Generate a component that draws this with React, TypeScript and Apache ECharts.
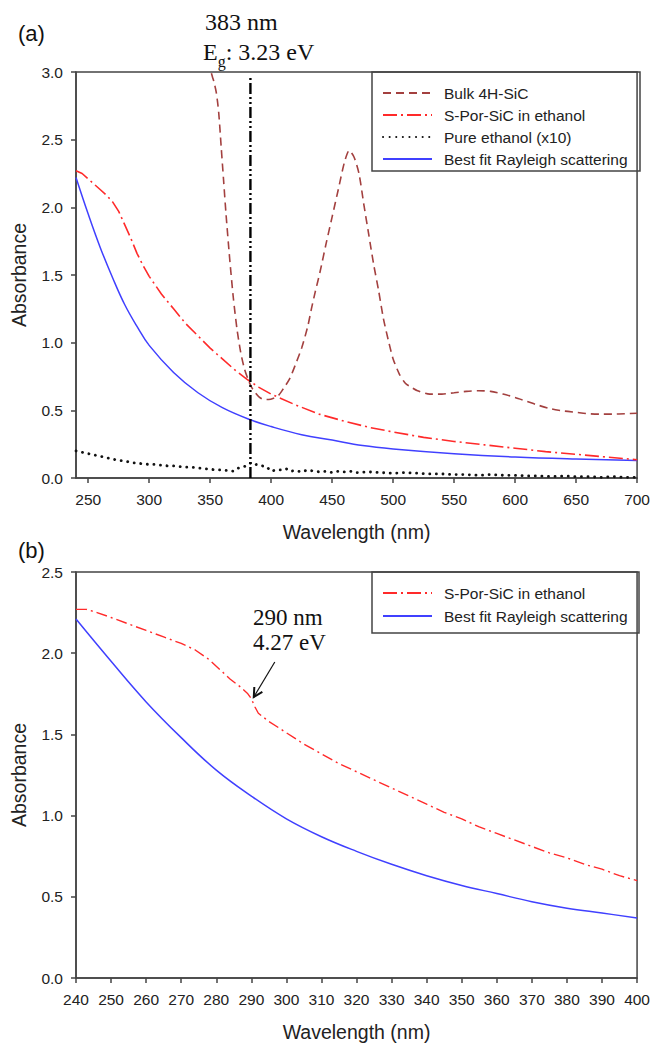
import React, { useEffect, useRef } from "react";
import * as echarts from "echarts";

// ---------- Panel (a) data ----------
const bulkWl = [351, 352, 353, 355, 357, 359, 361, 363, 366, 369, 372, 375, 378, 381, 384, 387, 390, 394, 398, 402, 406, 410, 415, 420, 425, 430, 433, 436, 440, 445, 450, 455, 460, 464, 468, 472, 476, 480, 484, 488, 492, 496, 500, 505, 510, 515, 520, 530, 540, 550, 560, 570, 580, 590, 600, 610, 620, 630, 640, 650, 660, 670, 680, 690, 700];
const bulkAbs = [2.99, 2.96, 2.93, 2.85, 2.7, 2.45, 2.2, 1.95, 1.62, 1.33, 1.1, 0.93, 0.81, 0.73, 0.67, 0.63, 0.6, 0.58, 0.58, 0.59, 0.61, 0.66, 0.73, 0.84, 0.96, 1.12, 1.25, 1.37, 1.52, 1.73, 1.93, 2.13, 2.33, 2.42, 2.37, 2.25, 2.02, 1.8, 1.58, 1.39, 1.18, 1.02, 0.88, 0.77, 0.7, 0.67, 0.645, 0.62, 0.62, 0.63, 0.64, 0.645, 0.64, 0.62, 0.595, 0.565, 0.535, 0.51, 0.495, 0.485, 0.475, 0.472, 0.472, 0.475, 0.478];

const porWlA = [240, 245, 250, 255, 260, 265, 270, 275, 280, 285, 290, 295, 300, 310, 320, 330, 340, 350, 360, 370, 380, 390, 400, 420, 440, 460, 480, 500, 525, 550, 575, 600, 625, 650, 675, 700];
const porAbsA = [2.27, 2.25, 2.21, 2.17, 2.13, 2.09, 2.04, 1.97, 1.87, 1.77, 1.66, 1.57, 1.49, 1.36, 1.25, 1.14, 1.05, 0.96, 0.88, 0.8, 0.73, 0.67, 0.62, 0.54, 0.47, 0.42, 0.375, 0.34, 0.3, 0.27, 0.245, 0.22, 0.195, 0.175, 0.155, 0.135];

const ethWl = [240, 245, 250, 255, 260, 265, 270, 275, 280, 285, 290, 295, 300, 305, 310, 315, 320, 325, 330, 335, 340, 345, 350, 355, 360, 365, 369, 372, 376, 380, 383, 385, 388, 392, 396, 400, 404, 408, 412, 416, 420, 425, 430, 435, 440, 445, 450, 455, 460, 465, 470, 480, 490, 500, 510, 520, 530, 540, 550, 560, 570, 580, 590, 600, 610, 620, 630, 640, 650, 660, 670, 680, 690, 700];
const ethAbs = [0.2, 0.19, 0.18, 0.17, 0.16, 0.15, 0.14, 0.13, 0.125, 0.115, 0.11, 0.105, 0.1, 0.1, 0.095, 0.09, 0.09, 0.085, 0.08, 0.08, 0.075, 0.07, 0.065, 0.06, 0.06, 0.055, 0.05, 0.07, 0.08, 0.09, 0.11, 0.095, 0.1, 0.09, 0.085, 0.05, 0.06, 0.06, 0.07, 0.05, 0.055, 0.045, 0.06, 0.05, 0.045, 0.05, 0.04, 0.05, 0.045, 0.05, 0.04, 0.045, 0.04, 0.035, 0.04, 0.035, 0.03, 0.03, 0.025, 0.025, 0.02, 0.025, 0.02, 0.02, 0.015, 0.015, 0.01, 0.015, 0.01, 0.01, 0.005, 0.01, 0.005, 0.005];

const rayWlA = [240, 250, 260, 270, 280, 290, 300, 320, 340, 360, 383, 400, 425, 450, 475, 500, 550, 600, 650, 700];
const rayAbsA = [2.22, 1.95, 1.7, 1.48, 1.28, 1.12, 0.98, 0.78, 0.63, 0.52, 0.43, 0.38, 0.32, 0.28, 0.24, 0.215, 0.18, 0.155, 0.14, 0.13];

const egWl = [383, 383];
const egAbs = [0, 2.96];

// ---------- Panel (b) data ----------
const porWlB = [240, 243, 246, 250, 255, 260, 265, 270, 274, 278, 281, 284, 287, 289, 290, 291, 292, 295, 300, 305, 310, 315, 320, 325, 330, 335, 340, 345, 350, 355, 360, 365, 370, 375, 380, 385, 390, 395, 400];
const porAbsB = [2.27, 2.27, 2.25, 2.22, 2.18, 2.14, 2.1, 2.06, 2.02, 1.96, 1.9, 1.84, 1.79, 1.75, 1.72, 1.67, 1.63, 1.58, 1.51, 1.44, 1.38, 1.32, 1.27, 1.22, 1.17, 1.12, 1.07, 1.02, 0.98, 0.93, 0.89, 0.85, 0.81, 0.77, 0.74, 0.7, 0.67, 0.63, 0.6];

const rayWlB = [240, 250, 260, 270, 280, 290, 300, 310, 320, 330, 340, 350, 360, 370, 380, 390, 400];
const rayAbsB = [2.21, 1.95, 1.7, 1.48, 1.28, 1.12, 0.98, 0.87, 0.78, 0.7, 0.63, 0.57, 0.52, 0.47, 0.43, 0.4, 0.37];

// ---------- ticks / labels ----------
const xTicksA = [250, 300, 350, 400, 450, 500, 550, 600, 650, 700];
const legendA = ["Bulk 4H-SiC", "S-Por-SiC in ethanol", "Pure ethanol (x10)", "Best fit Rayleigh scattering"];
const legendB = ["S-Por-SiC in ethanol", "Best fit Rayleigh scattering"];

const pair = (xs: number[], ys: number[]) => xs.map((x, i) => [x, ys[i]]);

const SANS = "Liberation Sans, Arial, sans-serif";
const SERIF = "Liberation Serif, Times New Roman, serif";
const AXIS = "#444";
const TXT = "#222";

const BROWN = "#a3403f";
const RED = "#ff2a2a";
const BLUE = "#4040ff";

function xAxisCfg(grid: number, min: number, max: number, extra: any) {
  return {
    type: "value",
    gridIndex: grid,
    min,
    max,
    axisLine: { show: true, lineStyle: { color: AXIS, width: 1.5 } },
    axisTick: { show: true, inside: false, length: 5, lineStyle: { color: AXIS, width: 1.5 }, ...(extra.tick || {}) },
    axisLabel: { margin: 13, fontSize: 15.5, color: TXT, fontFamily: SANS, ...(extra.label || {}) },
    splitLine: { show: false },
    name: "Wavelength (nm)",
    nameLocation: "middle",
    nameGap: 44,
    nameTextStyle: { fontSize: 19.5, color: TXT, fontFamily: SANS },
    ...(extra.axis || {}),
  };
}

function yAxisCfg(grid: number, max: number) {
  return {
    type: "value",
    gridIndex: grid,
    min: 0,
    max,
    interval: 0.5,
    axisLine: { show: true, lineStyle: { color: AXIS, width: 1.5 } },
    axisTick: { show: true, inside: false, length: 5, lineStyle: { color: AXIS, width: 1.5 } },
    axisLabel: { margin: 13, fontSize: 15.5, color: TXT, fontFamily: SANS, formatter: (v: number) => v.toFixed(1) },
    splitLine: { show: false },
    name: "Absorbance",
    nameLocation: "middle",
    nameGap: 47,
    nameTextStyle: { fontSize: 19.5, color: TXT, fontFamily: SANS },
  };
}

export default function App() {
  const ref = useRef<HTMLDivElement>(null);

  useEffect(() => {
    const chart = echarts.init(ref.current!, null, { renderer: "svg" });

    const lineBase = { type: "line", symbol: "none", showSymbol: false, smooth: false, silent: true };

    const redA = { color: RED, width: 1.6, type: [14, 4, 2, 4] };
    const redB = { color: RED, width: 1.4, type: [11, 4, 2, 4] };

    const legendCommon = {
      orient: "vertical",
      left: 382,
      itemWidth: 49,
      itemHeight: 14,
      padding: 0,
      selectedMode: false,
      z: 20,
      itemStyle: { opacity: 0, borderWidth: 0 },
      textStyle: { fontSize: 15.5, color: TXT, fontFamily: SANS, padding: [0, 0, 0, 7] },
    };

    const option: any = {
      animation: false,
      backgroundColor: "#fff",
      grid: [
        { left: 76, top: 72, width: 564, height: 406, show: true, borderColor: AXIS, borderWidth: 1.5, containLabel: false },
        { left: 76, top: 572, width: 563, height: 406, show: true, borderColor: AXIS, borderWidth: 1.5, containLabel: false },
      ],
      xAxis: [
        xAxisCfg(0, 240, 700, { tick: { customValues: xTicksA }, label: { customValues: xTicksA } }),
        xAxisCfg(1, 240, 400, { axis: { interval: 10 } }),
      ],
      yAxis: [yAxisCfg(0, 3), yAxisCfg(1, 2.5)],
      legend: [
        { ...legendCommon, data: legendA, top: 85, itemGap: 6 },
        { ...legendCommon, data: legendB, top: 585, itemGap: 7 },
      ],
      series: [
        { ...lineBase, name: "Bulk 4H-SiC", xAxisIndex: 0, yAxisIndex: 0, data: pair(bulkWl, bulkAbs), smooth: 0.25, lineStyle: { color: BROWN, width: 1.6, type: [8, 5] }, itemStyle: { color: BROWN }, z: 3 },
        { ...lineBase, name: "S-Por-SiC in ethanol", xAxisIndex: 0, yAxisIndex: 0, data: pair(porWlA, porAbsA), lineStyle: redA, itemStyle: { color: RED }, z: 4 },
        { ...lineBase, name: "Pure ethanol (x10)", xAxisIndex: 0, yAxisIndex: 0, data: pair(ethWl, ethAbs), lineStyle: { color: "#111", width: 2.8, type: [0.1, 6.5], cap: "round" }, itemStyle: { color: "#111" }, z: 3 },
        { ...lineBase, name: "Best fit Rayleigh scattering", xAxisIndex: 0, yAxisIndex: 0, data: pair(rayWlA, rayAbsA), smooth: 0.4, lineStyle: { color: BLUE, width: 1.5, type: "solid" }, itemStyle: { color: BLUE }, z: 3 },
        { ...lineBase, name: "Eg", xAxisIndex: 0, yAxisIndex: 0, data: pair(egWl, egAbs), lineStyle: { color: "#000", width: 2.4, type: [11, 3, 2, 3, 2, 3] }, itemStyle: { color: "#000" }, z: 5 },
        { ...lineBase, name: "S-Por-SiC in ethanol", xAxisIndex: 1, yAxisIndex: 1, data: pair(porWlB, porAbsB), lineStyle: redB, itemStyle: { color: RED }, z: 4 },
        { ...lineBase, name: "Best fit Rayleigh scattering", xAxisIndex: 1, yAxisIndex: 1, data: pair(rayWlB, rayAbsB), smooth: 0.4, lineStyle: { color: BLUE, width: 1.5, type: "solid" }, itemStyle: { color: BLUE }, z: 3 },
      ],
    };

    chart.setOption(option);

    // annotation arrow in panel (b), anchored to data coordinates
    const tip = chart.convertToPixel({ gridIndex: 1 } as any, [290.7, 1.73]) as number[];
    const tail = [tip[0] + 21, tip[1] - 35];
    const dx = tail[0] - tip[0];
    const dy = tail[1] - tip[1];
    const len = Math.hypot(dx, dy);
    const ux = dx / len;
    const uy = dy / len;
    const ang = (28 * Math.PI) / 180;
    const hl = 10;
    const rot = (a: number) => [tip[0] + hl * (ux * Math.cos(a) - uy * Math.sin(a)), tip[1] + hl * (ux * Math.sin(a) + uy * Math.cos(a))];
    const h1 = rot(ang);
    const h2 = rot(-ang);

    chart.setOption({
      graphic: [
        { type: "rect", shape: { x: 372, y: 72, width: 268, height: 99 }, style: { fill: "none", stroke: AXIS, lineWidth: 1.5 }, z: 1, silent: true },
        { type: "rect", shape: { x: 372, y: 572, width: 267, height: 61 }, style: { fill: "none", stroke: AXIS, lineWidth: 1.5 }, z: 1, silent: true },
        { type: "text", x: 18, y: 33, style: { text: "(a)", fontSize: 22, fontFamily: SANS, fill: "#111", align: "left", verticalAlign: "middle" }, z: 20 },
        { type: "text", x: 18, y: 550, style: { text: "(b)", fontSize: 22, fontFamily: SANS, fill: "#111", align: "left", verticalAlign: "middle" }, z: 20 },
        { type: "text", x: 205, y: 22, style: { text: "383 nm", fontSize: 24, fontFamily: SERIF, fill: "#111", align: "left", verticalAlign: "middle" }, z: 20 },
        {
          type: "text",
          x: 203,
          y: 52,
          style: {
            text: "{a|E}{s|g}{a|: 3.23 eV}",
            align: "left",
            verticalAlign: "middle",
            fill: "#111",
            rich: {
              a: { fontSize: 24, fontFamily: SERIF, fill: "#111", lineHeight: 34, verticalAlign: "middle" },
              s: { fontSize: 16, fontFamily: SERIF, fill: "#111", lineHeight: 16, verticalAlign: "bottom" },
            },
          },
          z: 20,
        },
        { type: "text", x: 253, y: 617, style: { text: "290 nm", fontSize: 23, fontFamily: SERIF, fill: "#111", align: "left", verticalAlign: "middle" }, z: 20 },
        { type: "text", x: 253, y: 642, style: { text: "4.27 eV", fontSize: 23, fontFamily: SERIF, fill: "#111", align: "left", verticalAlign: "middle" }, z: 20 },
        { type: "line", shape: { x1: tail[0], y1: tail[1], x2: tip[0], y2: tip[1] }, style: { stroke: "#111", lineWidth: 1.2 }, z: 20, silent: true },
        { type: "polyline", shape: { points: [h1, tip, h2] }, style: { stroke: "#111", lineWidth: 2, fill: null }, z: 20, silent: true },
      ],
    });

    return () => chart.dispose();
  }, []);

  return <div ref={ref} style={{ position: "absolute", left: 0, top: 0, width: 653, height: 1047, background: "#fff" }} />;
}
